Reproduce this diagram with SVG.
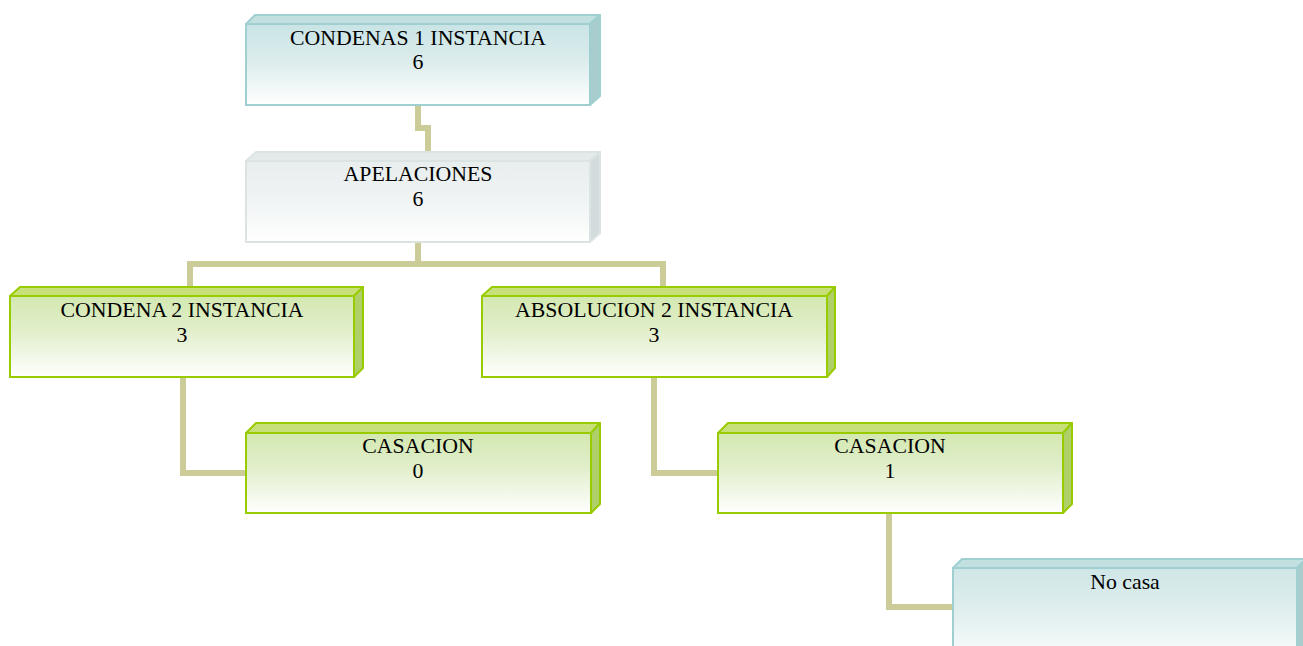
<svg xmlns="http://www.w3.org/2000/svg" width="1303" height="646" viewBox="0 0 1303 646">
<defs>
<linearGradient id="gT" x1="0" y1="0" x2="0" y2="1"><stop offset="0" stop-color="#c9e4e6"/><stop offset="0.45" stop-color="#dcecec"/><stop offset="1" stop-color="#ffffff"/></linearGradient>
<linearGradient id="gG" x1="0" y1="0" x2="0" y2="1"><stop offset="0" stop-color="#d3e8b0"/><stop offset="0.45" stop-color="#e2efcc"/><stop offset="1" stop-color="#ffffff"/></linearGradient>
<linearGradient id="gW" x1="0" y1="0" x2="0" y2="1"><stop offset="0" stop-color="#e8eded"/><stop offset="0.45" stop-color="#eff3f3"/><stop offset="1" stop-color="#ffffff"/></linearGradient>
<linearGradient id="gN" x1="0" y1="0" x2="0" y2="1"><stop offset="0" stop-color="#cfe6e7"/><stop offset="0.35" stop-color="#dcecec"/><stop offset="1" stop-color="#ffffff"/></linearGradient>
</defs>
<style>
.t{font-family:"Liberation Serif","Times New Roman",serif;font-size:21.8px;fill:#000;text-anchor:middle}
.teal .f{fill:url(#gT);stroke:#9fcfd0;stroke-width:2}
.teal .top{fill:#c3e0e1;stroke:#9fcfd0;stroke-width:2;stroke-linejoin:round}
.teal .side{fill:#a9cdcd;stroke:#9fcfd0;stroke-width:2;stroke-linejoin:round}
.grn .f{fill:url(#gG);stroke:#99cc00;stroke-width:2}
.grn .top{fill:#c8e07a;stroke:#99cc00;stroke-width:2;stroke-linejoin:round}
.grn .side{fill:#afd068;stroke:#99cc00;stroke-width:2;stroke-linejoin:round}
.gry .f{fill:url(#gW);stroke:#dbe3e3;stroke-width:2}
.gry .top{fill:#e4eaea;stroke:#dbe3e3;stroke-width:2;stroke-linejoin:round}
.gry .side{fill:#d3dcdc;stroke:#dbe3e3;stroke-width:2;stroke-linejoin:round}
.c{fill:none;stroke:#cccc99;stroke-width:6}
</style>
<g id="connectors">
<polyline class="c" points="418,105 418,128 428,128 428,151"/>
<polyline class="c" points="418,242 418,264"/>
<polyline class="c" points="190,287 190,264 663,264 663,287"/>
<polyline class="c" points="183,378 183,473 246,473"/>
<polyline class="c" points="654,378 654,473 718,473"/>
<polyline class="c" points="889,513 889,607 953,607"/>
</g>
<g id="n1" class="teal">
<polygon class="top" points="246,24 255,15 600,15 590,24"/>
<polygon class="side" points="590,24 600,15 600,96 590,105"/>
<rect class="f" x="246" y="24" width="344" height="81"/>
<text class="t" x="418" y="45">CONDENAS 1 INSTANCIA</text>
<text class="t" x="418" y="69">6</text>
</g>
<g id="n2" class="gry">
<polygon class="top" points="246,161 256,152 600,152 590,161"/>
<polygon class="side" points="590,161 600,152 600,233 590,242"/>
<rect class="f" x="246" y="161" width="344" height="81"/>
<text class="t" x="418" y="181">APELACIONES</text>
<text class="t" x="418" y="206">6</text>
</g>
<g id="n3" class="grn">
<polygon class="top" points="10,296 20,287 363,287 354,296"/>
<polygon class="side" points="354,296 363,287 363,368 354,377"/>
<rect class="f" x="10" y="296" width="344" height="81"/>
<text class="t" x="182" y="317">CONDENA 2 INSTANCIA</text>
<text class="t" x="182" y="342">3</text>
</g>
<g id="n4" class="grn">
<polygon class="top" points="482,296 492,287 835,287 827,296"/>
<polygon class="side" points="827,296 835,287 835,368 827,377"/>
<rect class="f" x="482" y="296" width="345" height="81"/>
<text class="t" x="654" y="317">ABSOLUCION 2 INSTANCIA</text>
<text class="t" x="654" y="342">3</text>
</g>
<g id="n5" class="grn">
<polygon class="top" points="246,433 256,423 600,423 591,433"/>
<polygon class="side" points="591,433 600,423 600,504 591,513"/>
<rect class="f" x="246" y="433" width="345" height="80"/>
<text class="t" x="418" y="453">CASACION</text>
<text class="t" x="418" y="478">0</text>
</g>
<g id="n6" class="grn">
<polygon class="top" points="718,433 728,423 1072,423 1063,433"/>
<polygon class="side" points="1063,433 1072,423 1072,504 1063,513"/>
<rect class="f" x="718" y="433" width="345" height="80"/>
<text class="t" x="890" y="453">CASACION</text>
<text class="t" x="890" y="478">1</text>
</g>
<g id="n7" class="teal">
<polygon class="top" points="953,568 962,559 1306,559 1297,568"/>
<polygon class="side" points="1297,568 1306,559 1306,660 1297,660"/>
<rect class="f" x="953" y="568" width="344" height="100" style="fill:url(#gN)"/>
<text class="t" x="1125" y="589">No casa</text>
</g>
</svg>
